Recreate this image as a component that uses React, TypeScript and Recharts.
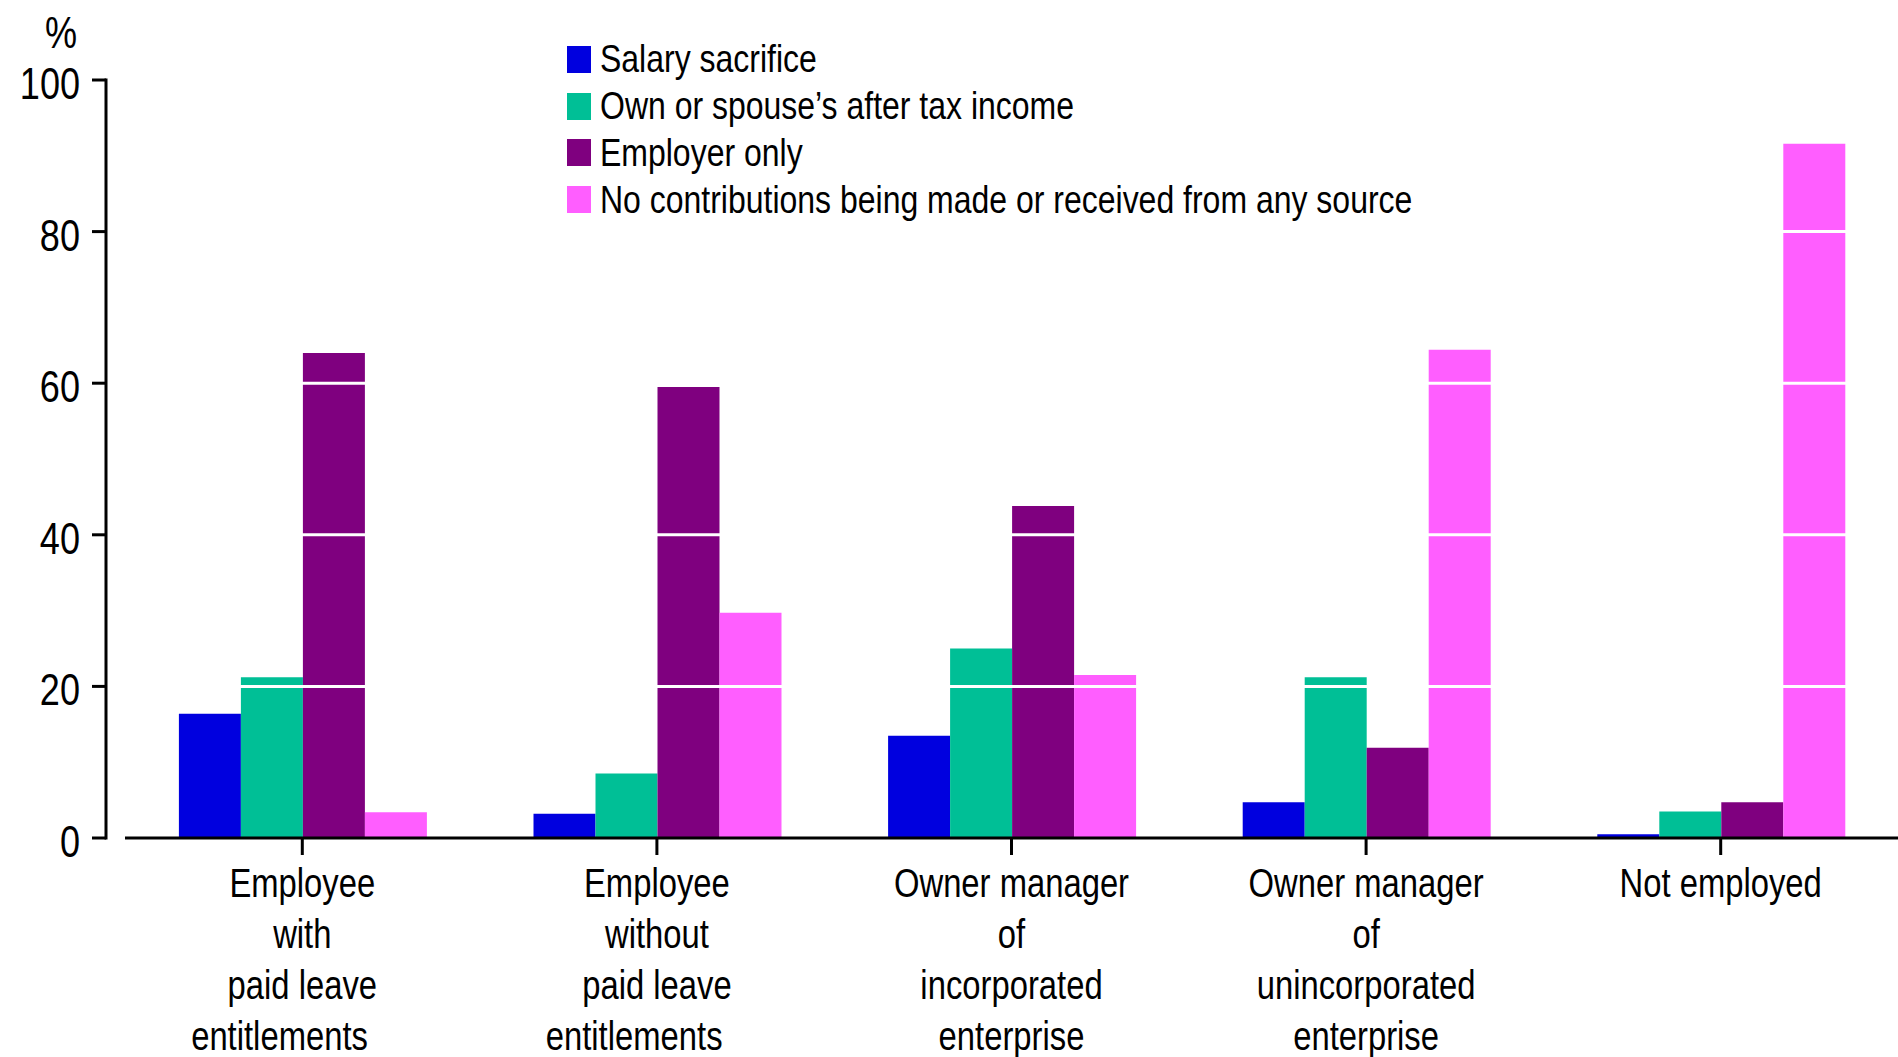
import React from 'react';
import { BarChart, Bar, XAxis, YAxis, ReferenceLine, Legend } from 'recharts';

const categories = [
  'Employee\nwith\npaid leave\nentitlements\u00a0\u00a0\u00a0\u00a0\u00a0',
  'Employee\nwithout\npaid leave\nentitlements\u00a0\u00a0\u00a0\u00a0\u00a0',
  'Owner manager\nof\nincorporated\nenterprise',
  'Owner manager\nof\nunincorporated\nenterprise',
  'Not employed',
];
const seriesNames = [
  'Salary sacrifice',
  'Own or spouse\u2019s after tax income',
  'Employer only',
  'No contributions being made or received from any source',
];
const seriesColors = ['#0000DF', '#00BF96', '#7F007F', '#FF5EFF'];
const salarySacrifice = [16.4, 3.2, 13.5, 4.7, 0.5];
const ownOrSpouse = [21.2, 8.5, 25.0, 21.2, 3.5];
const employerOnly = [64.0, 59.5, 43.8, 11.9, 4.7];
const noContributions = [3.4, 29.7, 21.5, 64.4, 91.6];
const yTicks = [0, 20, 40, 60, 80, 100];
const whiteLines = [20, 40, 60, 80];

const data = categories.map((c, i) => ({
  category: c,
  s0: salarySacrifice[i],
  s1: ownOrSpouse[i],
  s2: employerOnly[i],
  s3: noContributions[i],
}));

const FONT = '"Liberation Sans", Arial, sans-serif';
const SQUEEZE = 0.82;
// y axis line is drawn this far to the left of the plot area
const AXIS_GAP = 19;
const Y_TICK_LEN = 14;

const XTick = (props: any) => {
  const { x, y, payload } = props;
  const lines = String(payload.value).split('\n');
  return (
    <g transform={`translate(${x},${y}) scale(${SQUEEZE},1)`}>
      <text textAnchor="middle" fontFamily={FONT} fontSize={40} fill="#000">
        {lines.map((l, i) => (
          <tspan key={i} x={0} y={40 + i * 51}>{l}</tspan>
        ))}
      </text>
    </g>
  );
};

const YTick = (props: any) => {
  const { x, y, payload } = props;
  const ax = x - AXIS_GAP;
  return (
    <g>
      <line x1={ax - Y_TICK_LEN} y1={y} x2={ax} y2={y} stroke="#000" strokeWidth={3} />
      <g transform={`translate(${ax - Y_TICK_LEN - 12},${y}) scale(${SQUEEZE},1)`}>
        <text x={0} y={0} dy={19} textAnchor="end" fontFamily={FONT} fontSize={44} fill="#000">
          {payload.value}
        </text>
      </g>
    </g>
  );
};

const YAxisDecor = (p: any) => {
  const vb = p.viewBox;
  const ax = vb.x + vb.width - AXIS_GAP;
  return (
    <g>
      <line x1={ax} y1={vb.y} x2={ax} y2={vb.y + vb.height} stroke="#000" strokeWidth={3} strokeLinecap="square" />
      <g transform={`translate(${ax - 45},${vb.y - 32}) scale(${SQUEEZE},1)`}>
        <text x={0} y={0} textAnchor="middle" fontFamily={FONT} fontSize={44} fill="#000">
          %
        </text>
      </g>
    </g>
  );
};

const renderLegend = (props: any) => {
  const payload = [...(props.payload || [])].sort(
    (a: any, b: any) => seriesNames.indexOf(a.value) - seriesNames.indexOf(b.value)
  );
  return (
    <div style={{ fontFamily: FONT, fontSize: 39, color: '#000' }}>
      {payload.map((e: any, i: number) => (
        <div key={i} style={{ display: 'flex', alignItems: 'center', height: 46.8, whiteSpace: 'nowrap' }}>
          <span
            style={{ display: 'inline-block', flexShrink: 0, width: 24, height: 27, background: e.color, marginRight: 9 }}
          />
          <span style={{ display: 'inline-block', transform: `scaleX(${SQUEEZE})`, transformOrigin: 'left center' }}>
            {e.value}
          </span>
        </div>
      ))}
    </div>
  );
};

export default function App() {
  return (
    <div style={{ position: 'absolute', left: 0, top: 0, width: 1898, height: 1057, background: '#fff' }}>
      <BarChart
        width={1898}
        height={1057}
        data={data}
        margin={{ top: 80, right: 0, left: 0, bottom: 0 }}
        barGap={0}
        barCategoryGap="15.2%"
      >
        <XAxis
          dataKey="category"
          interval={0}
          height={219}
          tick={<XTick />}
          tickSize={17}
          axisLine={{ stroke: '#000', strokeWidth: 3 }}
          tickLine={{ stroke: '#000', strokeWidth: 3 }}
        />
        <YAxis
          domain={[0, 100]}
          ticks={yTicks}
          width={125}
          tickSize={0}
          tickMargin={0}
          tick={<YTick />}
          axisLine={false}
          tickLine={false}
          label={{ content: YAxisDecor }}
        />
        <Legend
          content={renderLegend}
          layout="vertical"
          align="center"
          verticalAlign="middle"
          wrapperStyle={{ position: 'absolute', left: 567, top: 36, width: 1000 }}
        />
        <Bar dataKey="s0" name={seriesNames[0]} fill={seriesColors[0]} isAnimationActive={false} />
        <Bar dataKey="s1" name={seriesNames[1]} fill={seriesColors[1]} isAnimationActive={false} />
        <Bar dataKey="s2" name={seriesNames[2]} fill={seriesColors[2]} isAnimationActive={false} />
        <Bar dataKey="s3" name={seriesNames[3]} fill={seriesColors[3]} isAnimationActive={false} />
        {whiteLines.map((v) => (
          <ReferenceLine key={v} y={v} stroke="#fff" strokeWidth={3} />
        ))}
      </BarChart>
    </div>
  );
}
